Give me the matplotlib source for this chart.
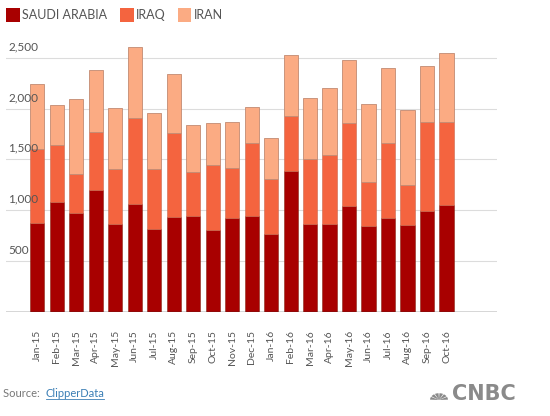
import matplotlib

matplotlib.use("Agg")
import matplotlib.pyplot as plt
from matplotlib.patches import Wedge
import numpy as np

months = ["Jan-15", "Feb-15", "Mar-15", "Apr-15", "May-15", "Jun-15", "Jul-15", "Aug-15",
          "Sep-15", "Oct-15", "Nov-15", "Dec-15", "Jan-16", "Feb-16", "Mar-16", "Apr-16",
          "May-16", "Jun-16", "Jul-16", "Aug-16", "Sep-16", "Oct-16"]
saudi = [880, 1080, 975, 1195, 870, 1060, 820, 935,
         945, 810, 925, 945, 765, 1385, 870, 870,
         1040, 850, 925, 860, 995, 1050]
iraq = [725, 565, 380, 580, 535, 850, 585, 830,
        430, 635, 490, 720, 540, 540, 630, 670,
        820, 425, 740, 390, 875, 820]
iran = [640, 395, 735, 605, 600, 695, 550, 580,
        460, 410, 455, 355, 405, 600, 600, 665,
        620, 775, 735, 740, 550, 675]
series_names = ["SAUDI ARABIA", "IRAQ", "IRAN"]
y_ticks = [500, 1000, 1500, 2000, 2500]

_SAUDI = "#a80000"
_IRAQ = "#f4643f"
_IRAN = "#fbab83"
_GRID = "#dcdcdc"
_TEXT = "#555555"

fig = plt.figure(figsize=(5.5, 4.16), dpi=100)
plt.rcParams["font.family"] = ["Lato", "DejaVu Sans"]
ax = fig.add_axes([0.011, 0.25, 0.893, 0.66])

x = np.arange(len(months))
w = 0.72
b1 = np.array(saudi)
b2 = b1 + np.array(iraq)
ax.bar(x, saudi, width=w, color=_SAUDI, edgecolor="#8a2a1a", linewidth=0.4, zorder=3)
ax.bar(x, iraq, width=w, bottom=b1, color=_IRAQ, edgecolor="#c9684e", linewidth=0.4, zorder=3)
ax.bar(x, iran, width=w, bottom=b2, color=_IRAN, edgecolor="#c28a72", linewidth=0.6, zorder=3)

ax.set_xlim(-1.59, 23.6)
ax.set_ylim(0, 2700)
for t in y_ticks:
    ax.axhline(t, color=_GRID, linewidth=0.8, zorder=1)
    ax.text(0.004, t + 55, f"{t:,}", transform=ax.get_yaxis_transform(),
            ha="left", va="bottom", fontsize=8.5, color=_TEXT, zorder=5)
ax.axhline(0, color="#333333", linewidth=1.0, zorder=4)

ax.set_yticks([])
ax.set_xticks(x)
ax.set_xticklabels(months, rotation=90, fontsize=7.5, color=_TEXT)
ax.tick_params(axis="x", length=0, pad=13)
for s in ax.spines.values():
    s.set_visible(False)

# legend
items = [(0.011, _SAUDI), (0.218, _IRAQ), (0.323, _IRAN)]
for (lx, col), name in zip(items, series_names):
    fig.patches.append(plt.Rectangle((lx, 0.947), 0.025, 0.033, transform=fig.transFigure,
                                     facecolor=col, edgecolor="none", figure=fig))
    fig.text(lx + 0.029, 0.963, name, fontsize=9, color=_TEXT, va="center", ha="left")

# footer
fig.text(0.006, 0.055, "Source: ", fontsize=8, color="#777777", va="center")
fig.text(0.083, 0.055, "ClipperData", fontsize=8, color="#3b7fb5", va="center")
fig.lines.append(plt.Line2D([0.083, 0.189], [0.041, 0.041], transform=fig.transFigure,
                            color="#3b7fb5", linewidth=0.6))
fig.text(0.822, 0.053, "CNBC", fontsize=15, fontweight="bold", color="#8a8a8a",
         va="center", ha="left", family=["DejaVu Sans"])
# small peacock mark
cx, cy = 439, 416 - 400
for a0 in range(0, 180, 30):
    fig.patches.append(Wedge((cx / 550, cy / 416), 9 / 550, a0 + 3, a0 + 27,
                             transform=fig.transFigure, facecolor="#8a8a8a",
                             edgecolor="none", figure=fig))

fig.savefig("out.png", dpi=100, facecolor="white")
